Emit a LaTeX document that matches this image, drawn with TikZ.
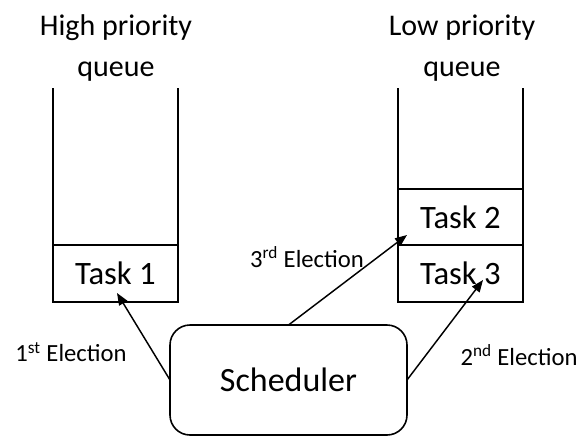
\documentclass[tikz,border=0pt]{standalone}
\usepackage{fontspec}
\setmainfont{Carlito}
\usetikzlibrary{arrows.meta}

\begin{document}
\begin{tikzpicture}[x=0.75pt,y=-0.75pt,
	task/.style={draw,line width=1.2pt,minimum width=125*0.75pt,inner sep=0,outer sep=0,font=\fontsize{24.5}{28}\selectfont},
	wall/.style={line width=1.2pt},
	elect/.style={-{Triangle[length=9pt,width=7pt]},line width=1.1pt},
	lbl/.style={font=\fontsize{18.5}{22}\selectfont,inner sep=0}]
	\useasboundingbox (0,0) rectangle (581,437);
	\node[align=center,font=\fontsize{22.5}{31}\selectfont] (hq) at (116,48) {High priority\\queue};
	\node[align=center,font=\fontsize{22.5}{31}\selectfont] (lq) at (462,48) {Low priority\\queue};
	\node[task,minimum height=57*0.75pt] (t1) at (115.5,273.5) {Task 1};
	\node[task,minimum height=56*0.75pt] (t2) at (460.5,217) {Task 2};
	\node[task,minimum height=57*0.75pt] (t3) at (460.5,273.5) {Task 3};
	\draw[wall] (t1.north west) -- ++(0,-157);
	\draw[wall] (t1.north east) -- ++(0,-157);
	\draw[wall] (t2.north west) -- ++(0,-101);
	\draw[wall] (t2.north east) -- ++(0,-101);
	\node[draw,line width=1.2pt,rounded corners=15pt,minimum width=237*0.75pt,minimum height=110*0.75pt,inner sep=0,outer sep=0,font=\fontsize{25.5}{30}\selectfont] (sched) at (288.5,380) {Scheduler};
	\coordinate (e1) at (117,293);
	\coordinate (e2) at (483,280);
	\coordinate (e3) at (407,235);
	\draw[elect] (sched.west) -- (e1);
	\draw[elect] (sched.east) -- (e2);
	\draw[elect] (sched.north) -- (e3);
	\node[lbl] (l1) at (71,352) {1\textsuperscript{st} Election};
	\node[lbl] (l2) at (519,355) {2\textsuperscript{nd} Election};
	\node[lbl] (l3) at (307,257) {3\textsuperscript{rd} Election};
\end{tikzpicture}
\end{document}
